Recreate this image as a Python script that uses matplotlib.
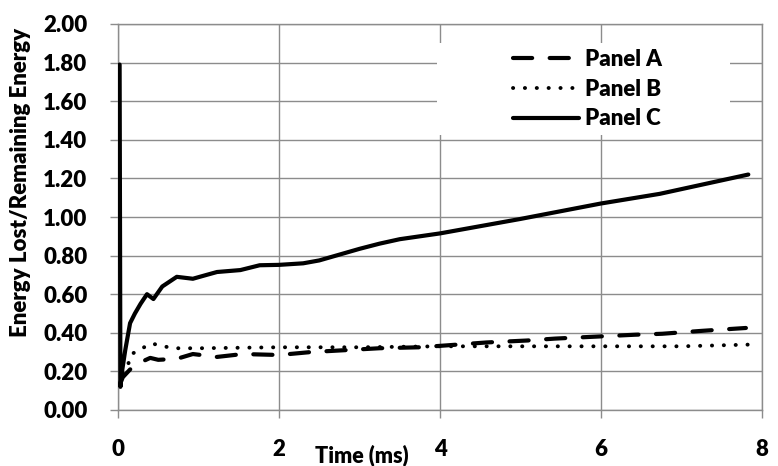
import matplotlib
matplotlib.use("Agg")
import matplotlib.pyplot as plt
from matplotlib.patches import Rectangle

FONT = ['Lato', 'DejaVu Sans']
WT = 'heavy'
plt.rcParams['font.family'] = FONT
plt.rcParams['font.weight'] = WT

# ---- data ----
a_x = [0.02, 0.06, 0.15, 0.27, 0.40, 0.50, 0.73, 0.93, 1.23, 1.55, 2.00, 2.39,
       3.25, 3.75, 4.09, 4.58, 5.08, 5.43, 5.93, 6.42, 6.76, 7.25, 7.80]
a_y = [0.13, 0.17, 0.21, 0.245, 0.27, 0.26, 0.265, 0.29, 0.275, 0.29, 0.285, 0.30,
       0.32, 0.325, 0.335, 0.35, 0.36, 0.37, 0.38, 0.39, 0.395, 0.41, 0.425]

b_x = [0.02, 0.05, 0.12, 0.17, 0.30, 0.42, 0.56, 0.71, 1.00, 2.00, 3.00, 4.00,
       5.00, 6.00, 7.00, 7.95]
b_y = [0.13, 0.18, 0.23, 0.29, 0.32, 0.345, 0.33, 0.32, 0.32, 0.325, 0.325, 0.33,
       0.33, 0.33, 0.33, 0.34]

c_x = [0.02, 0.03, 0.05, 0.09, 0.15, 0.21, 0.28, 0.36, 0.44, 0.55, 0.73, 0.93,
       1.10, 1.23, 1.52, 1.76, 2.00, 2.30, 2.50, 2.75, 3.00, 3.25, 3.50, 4.00,
       5.00, 6.00, 6.73, 7.83]
c_y = [1.79, 0.12, 0.20, 0.31, 0.45, 0.50, 0.55, 0.60, 0.575, 0.64, 0.69, 0.68,
       0.70, 0.715, 0.725, 0.75, 0.752, 0.76, 0.775, 0.805, 0.835, 0.862, 0.885, 0.915,
       0.99, 1.07, 1.12, 1.22]

labels = ["Panel A", "Panel B", "Panel C"]
x_ticks = [0, 2, 4, 6, 8]
y_ticks = [0.0, 0.2, 0.4, 0.6, 0.8, 1.0, 1.2, 1.4, 1.6, 1.8, 2.0]

W, H = 778, 466
fig = plt.figure(figsize=(W / 100, H / 100), dpi=100)
L, R, B, T = 118, 762, 410, 24
ax = fig.add_axes([L / W, 1 - B / H, (R - L) / W, (B - T) / H])

grid_c = '#8c8c8c'
ax.set_xlim(0, 8)
ax.set_ylim(0, 2.0)
ax.set_xticks(x_ticks)
ax.set_yticks(y_ticks)
ax.set_xticklabels([str(v) for v in x_ticks])
ax.set_yticklabels([f"{v:.2f}" for v in y_ticks])
ax.grid(True, color=grid_c, lw=1.0)
ax.set_axisbelow(True)
for s in ax.spines.values():
    s.set_color(grid_c)
    s.set_linewidth(1.0)
ax.tick_params(axis='both', direction='out', length=6, width=1.0, color=grid_c,
               labelsize=16, labelcolor='black')
ax.tick_params(axis='y', pad=16)
ax.tick_params(axis='x', pad=15)
for lab in ax.get_xticklabels() + ax.get_yticklabels():
    lab.set_fontweight(WT)

# white legend background covering the grid
ax.add_patch(Rectangle(((437 - L) / (R - L), (B - 135) / (B - T)),
                       (730 - 437) / (R - L), (135 - 43) / (B - T),
                       transform=ax.transAxes, facecolor='white', edgecolor='none',
                       zorder=1.5))

la, = ax.plot(a_x, a_y, color='black', lw=3.0, dashes=(4.6, 4.2),
              dash_capstyle='round', solid_capstyle='round', label=labels[0], zorder=3)
lb, = ax.plot(b_x, b_y, color='black', lw=2.8, dashes=(0.05, 3.0),
              dash_capstyle='round', label=labels[1], zorder=3)
lc, = ax.plot(c_x, c_y, color='black', lw=3.0, solid_capstyle='round',
              solid_joinstyle='round', label=labels[2], zorder=3)

leg = ax.legend(handles=[la, lb, lc], loc='upper left',
                bbox_to_anchor=(513 / W, 1 - 49 / H), bbox_transform=fig.transFigure,
                frameon=False, borderpad=0, borderaxespad=0, handlelength=2.95,
                handletextpad=0.3, labelspacing=0.39,
                prop={'family': FONT, 'weight': WT, 'size': 16})
leg.set_zorder(4)

fig.text(21 / W, 1 - 182 / H, "Energy Lost/Remaining Energy", rotation=90,
         ha='center', va='center', fontsize=16, fontweight=WT)
fig.text(362 / W, 1 - 455 / H, "Time (ms)", ha='center', va='center',
         fontsize=15.5, fontweight=WT)

fig.savefig("out.png", dpi=100)
